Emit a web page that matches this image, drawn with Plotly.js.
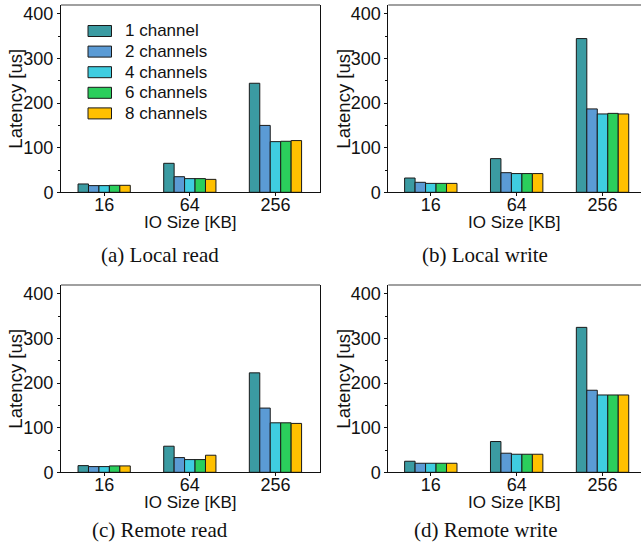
<!DOCTYPE html>
<html>
<head>
<meta charset="utf-8">
<script src="https://cdn.plot.ly/plotly-3.0.1.min.js"></script>
<style>html,body{margin:0;padding:0;background:#fff;}#chart{width:641px;height:548px;}</style>
</head>
<body>
<div id="chart"></div>
<script>
// Categories and series names
const ioSizes = ['16', '64', '256'];
const channelNames = ['1 channel', '2 channels', '4 channels', '6 channels', '8 channels'];
const channelColors = ['#3b9ba2', '#5b9bd5', '#3fcde0', '#2bce5c', '#ffc000'];
const panelCaptions = ['(a) Local read', '(b) Local write', '(c) Remote read', '(d) Remote write'];
const xTitle = 'IO Size [KB]';
const yTitle = 'Latency [us]';

// Latency [us] per channel count (rows: 1,2,4,6,8 channels; cols: 16,64,256 KB)
const localRead = [
  [18.7, 65, 244.5],
  [15, 35, 150],
  [15, 30.7, 113.6],
  [15.7, 30.7, 114.4],
  [15.7, 29, 116]
];
const localWrite = [
  [32, 75.5, 344.7],
  [22.4, 44, 187],
  [20, 42, 175.7],
  [20, 42, 177],
  [20, 42, 175.7]
];
const remoteRead = [
  [15, 58.5, 223],
  [12.8, 33, 144],
  [12.8, 28.5, 111],
  [14.3, 28.5, 111],
  [14.3, 38.3, 109.6]
];
const remoteWrite = [
  [24.8, 69, 325],
  [20.3, 42.8, 184],
  [20.3, 40.5, 173.4],
  [20.3, 40.5, 173.4],
  [20.3, 40.5, 173.4]
];

const panels = [localRead, localWrite, remoteRead, remoteWrite];
const W = 641, H = 548;
// pixel geometry of each panel: [left, right, top, bottom]
const geo = [
  [61, 320, 5, 192.3],
  [388.3, 641, 5, 192.3],
  [61, 320, 285, 472.3],
  [388.3, 641, 285, 472.3]
];
const xRanges = [[-0.504, 2.52], [-0.495, 2.448], [-0.504, 2.52], [-0.495, 2.448]];

const traces = [];
panels.forEach((panel, p) => {
  const ax = p === 0 ? '' : String(p + 1);
  panel.forEach((vals, c) => {
    traces.push({
      type: 'bar',
      x: ioSizes,
      y: vals,
      name: channelNames[c],
      xaxis: 'x' + ax,
      yaxis: 'y' + ax,
      showlegend: false,
      marker: {color: channelColors[c], line: {color: '#1a1a1a', width: 1}},
      hoverinfo: 'skip'
    });
  });
});

const fam = 'Liberation Sans, Arial, sans-serif';
const layout = {
  width: W, height: H,
  margin: {l: 0, r: 0, t: 0, b: 0},
  paper_bgcolor: '#fff', plot_bgcolor: '#fff',
  font: {family: fam, size: 17, color: '#111'},
  barmode: 'group',
  bargap: 0.39,
  bargroupgap: 0,
  showlegend: false,
  shapes: [],
  annotations: []
};

geo.forEach((g, p) => {
  const ax = p === 0 ? '' : String(p + 1);
  layout['xaxis' + ax] = {
    domain: [g[0] / W, g[1] / W],
    anchor: 'y' + ax,
    range: xRanges[p],
    type: 'category',
    showgrid: false, zeroline: false,
    showline: true, linecolor: '#111', linewidth: 1,
    ticks: 'outside', ticklen: 3, tickcolor: '#111',
    ticklabelstandoff: -7,
    tickfont: {family: fam, size: 18, color: '#111'},
    automargin: false, fixedrange: true
  };
  layout['yaxis' + ax] = {
    domain: [1 - g[3] / H, 1 - g[2] / H],
    anchor: 'x' + ax,
    range: [0, 420],
    tickvals: [0, 100, 200, 300, 400],
    showgrid: false, zeroline: false,
    showline: true, linecolor: '#111', linewidth: 1,
    mirror: (p === 0 || p === 2),
    ticks: 'outside', ticklen: 3, tickcolor: '#111',
    minor: {dtick: 50, tick0: 0, ticks: 'outside', ticklen: 2, tickcolor: '#111', showgrid: false},
    tickfont: {family: fam, size: 18, color: '#111'},
    automargin: false, fixedrange: true
  };
  layout.shapes.push({
    type: 'line', xref: 'x' + ax + ' domain', yref: 'y' + ax + ' domain',
    x0: 0, x1: 1, y0: 1, y1: 1,
    line: {color: '#808080', width: 1.5}
  });
  // axis titles
  layout.annotations.push({
    text: xTitle, xref: 'x' + ax + ' domain', yref: 'paper',
    x: 0.5, y: 1 - (g[3] + 30.5) / H, xanchor: 'center', yanchor: 'middle',
    showarrow: false, font: {family: fam, size: 17, color: '#111'}
  });
  layout.annotations.push({
    text: yTitle, xref: 'paper', yref: 'y' + ax + ' domain',
    x: (p % 2 === 0 ? 16 : 344) / W, y: 0.5, xanchor: 'center', yanchor: 'middle',
    textangle: -90,
    showarrow: false, font: {family: fam, size: 18.5, color: '#111'}
  });
  layout.annotations.push({
    text: panelCaptions[p],
    xref: 'paper', yref: 'paper',
    x: (p % 2 === 0 ? 160 : 485) / W,
    y: 1 - (p < 2 ? 255 : 530) / H,
    xanchor: 'center', yanchor: 'middle',
    showarrow: false,
    font: {family: 'Liberation Serif, Times New Roman, serif', size: 21, color: '#111'}
  });
});

// Custom legend inside panel (a)
const legLeft = 88, legTop = 31, legStep = 20.6, swW = 23.5, swH = 11;
channelNames.forEach((name, i) => {
  const cy = legTop + i * legStep;
  layout.shapes.push({
    type: 'rect', xref: 'paper', yref: 'paper',
    x0: legLeft / W, x1: (legLeft + swW) / W,
    y0: 1 - (cy + swH / 2) / H, y1: 1 - (cy - swH / 2) / H,
    fillcolor: channelColors[i], line: {color: '#1a1a1a', width: 1}
  });
  layout.annotations.push({
    text: name, xref: 'paper', yref: 'paper',
    x: 123 / W, y: 1 - cy / H, xanchor: 'left', yanchor: 'middle',
    showarrow: false, font: {family: fam, size: 17, color: '#111'}
  });
});

Plotly.newPlot('chart', traces, layout, {displayModeBar: false, staticPlot: true});
</script>
</body>
</html>
